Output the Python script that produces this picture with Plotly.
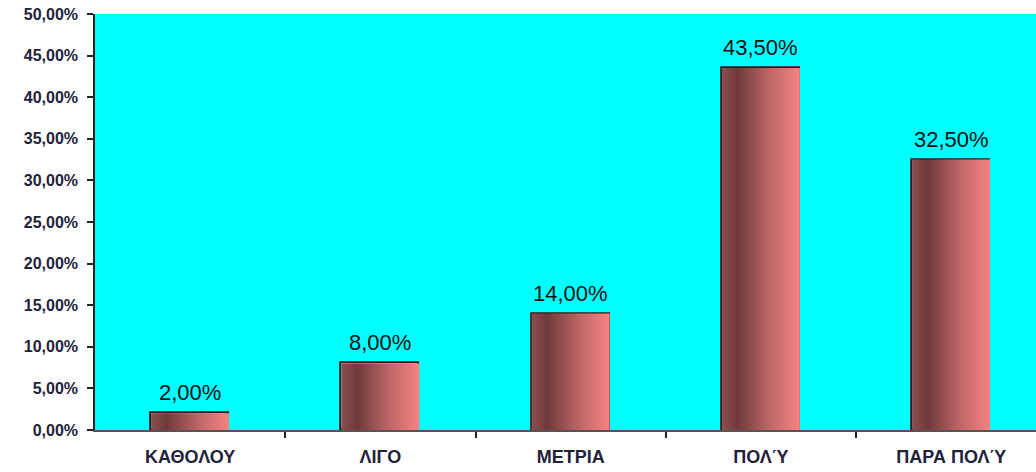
import plotly.graph_objects as go

# Survey answers and their shares
categories = ["ΚΑΘΟΛΟΥ", "ΛΙΓΟ", "ΜΕΤΡΙΑ", "ΠΟΛΎ", "ΠΑΡΑ ΠΟΛΎ"]
shares = [0.02, 0.08, 0.14, 0.435, 0.325]
y_ticks = [i * 0.05 for i in range(11)]

positions = list(range(len(categories)))
bar_width = 0.41
half = bar_width / 2

FONT = "Liberation Sans, Arial, sans-serif"

fig = go.Figure()

# Shaded bar bodies: a horizontal gradient from dark brown to salmon
for x, v in zip(positions, shares):
    fig.add_trace(go.Scatter(
        x=[x - half, x + half, x + half, x - half, x - half],
        y=[0, 0, v, v, 0],
        mode="lines",
        line=dict(width=0),
        fill="toself",
        fillgradient=dict(
            type="horizontal",
            colorscale=[[0, "#8c4e4e"], [0.2, "#703a3a"], [0.65, "#c46a6a"], [1, "#f58282"]],
        ),
        hoverinfo="skip",
        showlegend=False,
    ))

# Bar outlines
fig.add_trace(go.Bar(
    x=positions,
    y=shares,
    width=bar_width,
    marker=dict(color="rgba(0,0,0,0)", line=dict(color="#3a1818", width=1.8)),
    showlegend=False,
))

# Value labels above bars
for x, v in zip(positions, shares):
    fig.add_annotation(
        x=x, y=v,
        text=f"{v * 100:.2f}%".replace(".", ","),
        showarrow=False,
        yanchor="bottom",
        yshift=6,
        font=dict(family=FONT, size=22, color="#111"),
    )

fig.update_layout(
    width=1036,
    height=472,
    margin=dict(l=95, r=0, t=14, b=42),
    paper_bgcolor="white",
    plot_bgcolor="#00ffff",
    separators=", ",
    font=dict(family=FONT),
    bargap=0,
)

fig.update_xaxes(
    range=[-0.5, 4.446],
    tickvals=positions,
    ticktext=categories,
    ticks="",
    ticklabelstandoff=10,
    showgrid=False,
    zeroline=False,
    showline=True,
    linecolor="#555",
    linewidth=1.5,
    tickfont=dict(size=18, color="#22223a", family=FONT, weight="bold"),
    minor=dict(tickvals=[p + 0.5 for p in positions], ticks="outside", ticklen=6, tickcolor="#222", tickwidth=1.5, showgrid=False),
)

fig.update_yaxes(
    range=[0, 0.5],
    tickvals=y_ticks,
    tickformat=".2%",
    ticks="outside",
    ticklen=6,
    tickwidth=1.5,
    tickcolor="#222",
    ticklabelstandoff=6,
    showgrid=False,
    zeroline=False,
    showline=True,
    linecolor="#222",
    linewidth=1.5,
    tickfont=dict(size=16, color="#22223a", family=FONT, weight="bold"),
)

fig.write_html("out.html")
